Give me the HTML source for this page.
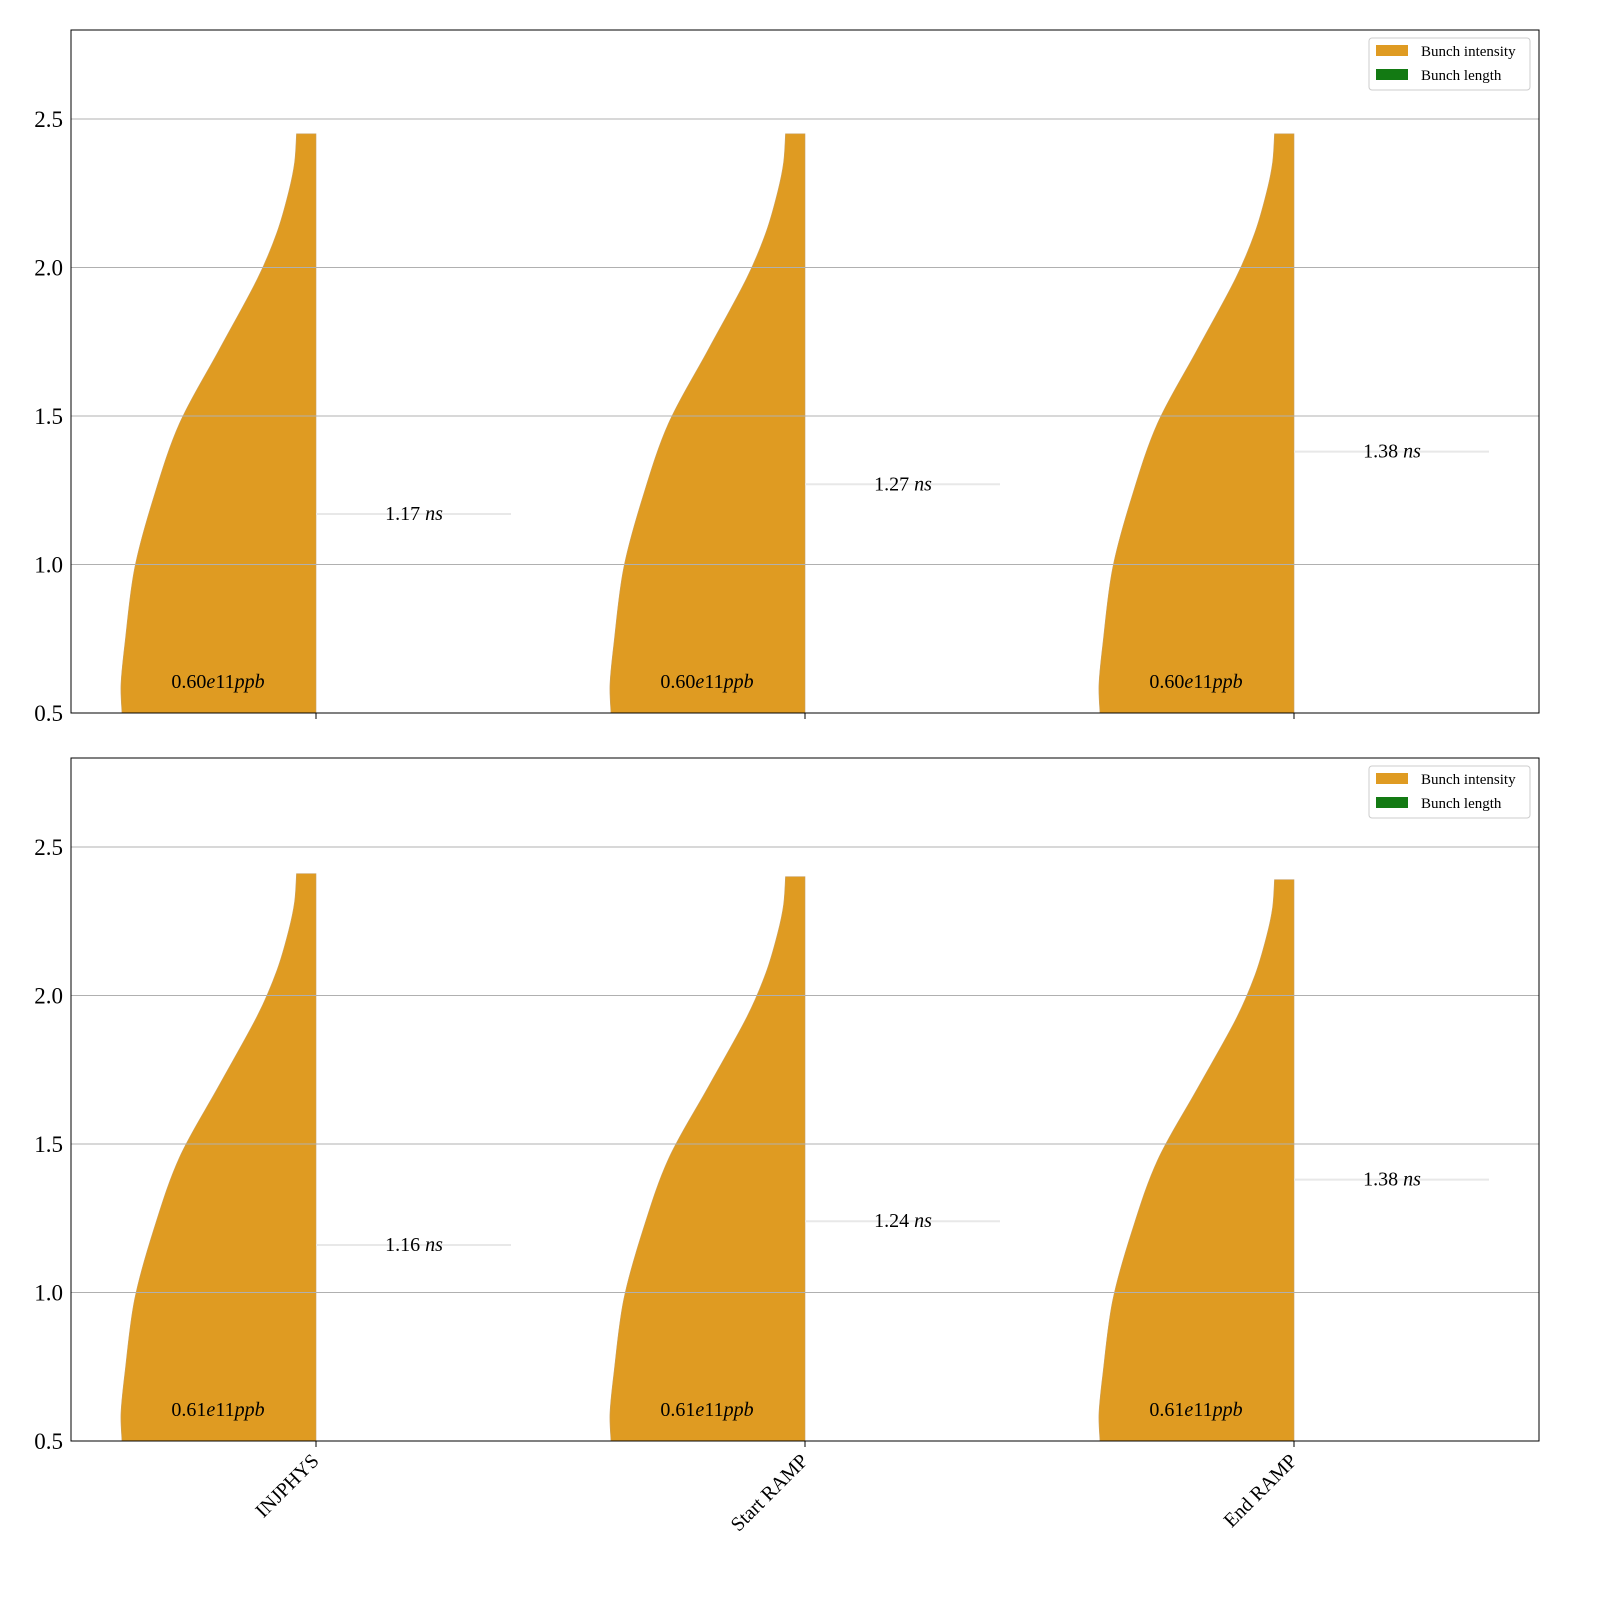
<!DOCTYPE html>
<html><head><meta charset="utf-8"><style>
body{margin:0;background:#fff}
svg{font-family:"Liberation Serif",serif}
</style></head><body>
<svg id="c" width="1600" height="1600" xmlns="http://www.w3.org/2000/svg"></svg>
<script>
const categories=["INJPHYS","Start RAMP","End RAMP"];
const topIntensityLabels=["0.60","0.60","0.60"];
const botIntensityLabels=["0.61","0.61","0.61"];
const topLength=[1.17,1.27,1.38];
const botLength=[1.16,1.24,1.38];
const topViolinMax=[2.45,2.45,2.45];
const botViolinMax=[2.41,2.40,2.39];
// violin profile: relative position (0=0.5 bottom, 1=top), half-width fraction
const profPos=[0,0.05,0.12,0.25,0.375,0.5,0.625,0.75,0.83,0.9,0.95,1];
const profW=[0.995,1,0.98,0.93,0.83,0.70,0.50,0.30,0.20,0.14,0.11,0.10];
const yTicks=[0.5,1.0,1.5,2.0,2.5];
const NS="http://www.w3.org/2000/svg";
const svg=document.getElementById('c');
function mk(t,a,p){const e=document.createElementNS(NS,t);for(const k in a)e.setAttribute(k,a[k]);(p||svg).appendChild(e);return e;}
const X0=71,X1=1539,xs=[316,805,1294],halfW=195;
function smooth(pts){let d=`L${pts[0][0]},${pts[0][1]}`;
  for(let i=0;i<pts.length-1;i++){const p0=pts[Math.max(0,i-1)],p1=pts[i],p2=pts[i+1],p3=pts[Math.min(pts.length-1,i+2)];
    d+=` C${p1[0]+(p2[0]-p0[0])/6},${p1[1]+(p2[1]-p0[1])/6} ${p2[0]-(p3[0]-p1[0])/6},${p2[1]-(p3[1]-p1[1])/6} ${p2[0]},${p2[1]}`;}
  return d;}
const panels=[{top:30,bot:713,il:topIntensityLabels,len:topLength,vm:topViolinMax,n:'top'},{top:758,bot:1441,il:botIntensityLabels,len:botLength,vm:botViolinMax,n:'bottom'}];
panels.forEach(P=>{
  const y=v=>P.bot-(v-0.5)*297;
  const g=mk('g',{});
  
  
  categories.forEach((c,i)=>{
    const cx=xs[i];
    const pts=profPos.map((p,j)=>[cx-profW[j]*halfW,y(0.5+p*(P.vm[i]-0.5))]);
    let d=`M${cx},${y(0.5)} `+smooth(pts)+` L${cx},${y(P.vm[i])} Z`;
    const pth=mk('path',{d,fill:'#df9b22',stroke:'#c9a060','stroke-width':0.6},g);
    
    
  });
  yTicks.forEach(t=>{
    mk('line',{x1:X0,x2:X1,y1:y(t),y2:y(t),stroke:'#b0b0b0','stroke-width':1},g);
    const tx=mk('text',{x:X0-8,y:y(t)+8,'text-anchor':'end','font-size':23},g);tx.textContent=t.toFixed(1);
    
    
  });
  categories.forEach((c,i)=>{
    const cx=xs[i];
    mk('line',{x1:cx,x2:cx+195,y1:y(P.len[i]),y2:y(P.len[i]),stroke:'#e8e8e8','stroke-width':2},g);
    const t=mk('text',{x:cx+98,y:y(P.len[i])+6,'text-anchor':'middle','font-size':20},g);
    t.innerHTML=P.len[i].toFixed(2)+' <tspan font-style="italic">ns</tspan>';
    
    
    const t2=mk('text',{x:cx-98,y:y(0.5)-25,'text-anchor':'middle','font-size':20},g);
    t2.innerHTML=P.il[i]+'<tspan font-style="italic">e</tspan>11<tspan font-style="italic">ppb</tspan>';
    
    
    mk('line',{x1:cx,x2:cx,y1:P.bot,y2:P.bot+6,stroke:'#000','stroke-width':1},g);
  });
  mk('rect',{x:X0,y:P.top,width:X1-X0,height:P.bot-P.top,fill:'none',stroke:'#000','stroke-width':1},g);
  const lg=mk('g',{},g);
  
  
  mk('rect',{x:1369,y:P.top+8,width:161,height:52,rx:3,fill:'#fff',stroke:'#ccc'},lg);
  [['#df9b22','Bunch intensity'],['#137a13','Bunch length']].forEach((e,k)=>{
    mk('rect',{x:1376,y:P.top+15+k*24,width:32,height:11,fill:e[0]},lg);
    const t=mk('text',{x:1421,y:P.top+26+k*24,'font-size':15},lg);t.textContent=e[1];
    
    
  });
});
categories.forEach((c,i)=>{
  const t=mk('text',{x:xs[i]+4,y:1462,'text-anchor':'end','font-size':20,transform:`rotate(-45 ${xs[i]+4} 1462)`});
  t.textContent=c;
  
  
});
</script>
</body></html>
